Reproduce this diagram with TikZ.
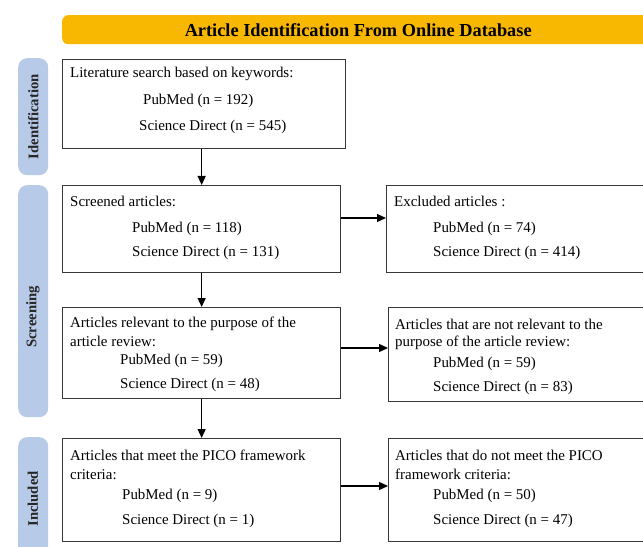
\documentclass[tikz,border=0pt]{standalone}
\usepackage{fontspec}
\setmainfont{Liberation Serif}
\usetikzlibrary{arrows.meta}
\definecolor{bannercol}{RGB}{248,183,0}
\definecolor{sidecol}{RGB}{183,202,232}
\definecolor{edgecol}{RGB}{55,55,55}
\begin{document}
\begin{tikzpicture}[x=1bp,y=-1bp,
  box/.style={draw=edgecol, line width=1.3bp, rectangle, inner sep=0, anchor=north west},
  sidebar/.style={fill=sidecol, rounded corners=9bp, rectangle, inner sep=0, anchor=north west, minimum width=30bp},
  sidetxt/.style={rotate=90, font=\fontsize{14.7}{17}\selectfont\bfseries, text=black!85},
  txt/.style={anchor=base west, inner sep=0, font=\fontsize{15}{17}\selectfont},
  arr/.style={-{Triangle[length=9bp,width=8bp]}, line width=1.3bp}]
\useasboundingbox (0,0) rectangle (643,547);
\clip (0,0) rectangle (643,547);
\fill[white] (0,0) rectangle (643,547);
% banner
\node[fill=bannercol, rounded corners=6bp, rectangle, anchor=north west, inner sep=0,
      minimum width=592bp, minimum height=29bp,
      font=\fontsize{18.4}{20}\selectfont\bfseries] (banner) at (62,15)
      {Article Identification From Online Database};
% side bars
\node[sidebar, minimum height=117bp] (sid) at (18,58) {};
\node[sidetxt] at (sid.center) {Identification};
\node[sidebar, minimum height=232bp] (sscr) at (18,185) {};
\node[sidetxt] at (33,317) {Screening};
\node[sidebar, minimum height=125bp] (sinc) at (18,437) {};
\node[sidetxt] at (33,499) {Included};
% boxes
\node[box, minimum width=283bp, minimum height=89bp] (b1) at (62,59) {};
\node[box, minimum width=278bp, minimum height=87bp] (b2) at (62,185) {};
\node[box, minimum width=278bp, minimum height=91bp] (b3) at (62,307) {};
\node[box, minimum width=278bp, minimum height=103bp] (b6) at (62,438) {};
\node[box, minimum width=290bp, minimum height=87bp] (b4) at (386,185) {};
\node[box, minimum width=290bp, minimum height=94bp] (b5) at (388,307) {};
\node[box, minimum width=290bp, minimum height=103bp] (b7) at (388,438) {};
% texts
\node[txt] at (70,78) {Literature search based on keywords:};
\node[txt] at (143,105) {PubMed (n = 192)};
\node[txt] at (139,131) {Science Direct (n = 545)};
\node[txt] at (70,207) {Screened articles:};
\node[txt] at (132,233) {PubMed (n = 118)};
\node[txt] at (132,257) {Science Direct (n = 131)};
\node[txt] at (394,207) {Excluded articles :};
\node[txt] at (433,233) {PubMed (n = 74)};
\node[txt] at (433,257) {Science Direct (n = 414)};
\node[txt] at (70,327) {Articles relevant to the purpose of the};
\node[txt] at (70,346) {article review:};
\node[txt] at (120,364) {PubMed (n = 59)};
\node[txt] at (120,388) {Science Direct (n = 48)};
\node[txt] at (395,329) {Articles that are not relevant to the};
\node[txt] at (395,346) {purpose of the article review:};
\node[txt] at (433,367) {PubMed (n = 59)};
\node[txt] at (433,391) {Science Direct (n = 83)};
\node[txt] at (70,460) {Articles that meet the PICO framework};
\node[txt] at (70,479) {criteria:};
\node[txt] at (122,499) {PubMed (n = 9)};
\node[txt] at (122,524) {Science Direct (n = 1)};
\node[txt] at (395,460) {Articles that do not meet the PICO};
\node[txt] at (395,479) {framework criteria:};
\node[txt] at (433,499) {PubMed (n = 50)};
\node[txt] at (433,524) {Science Direct (n = 47)};
% arrows
\draw[arr] (b1.south -| b2.north) -- (b2.north);
\draw[arr] (b2.south) -- (b3.north);
\draw[arr] (b3.south) -- (b6.north);
\draw[arr] ([yshift=-33bp]b2.north east) -- ([yshift=-33bp]b2.north east -| b4.west);
\draw[arr] ([yshift=-41bp]b3.north east) -- ([yshift=-41bp]b3.north east -| b5.west);
\draw[arr] ([yshift=-48bp]b6.north east) -- ([yshift=-48bp]b6.north east -| b7.west);
\end{tikzpicture}
\end{document}
